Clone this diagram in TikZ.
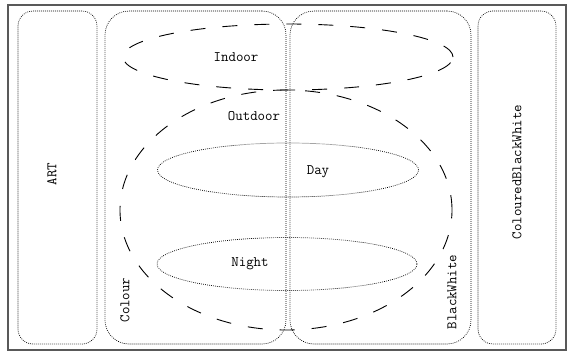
\documentclass[tikz,border=0pt]{standalone}
\usetikzlibrary{shapes.geometric}

\begin{document}
\begin{tikzpicture}[x=1pt, y=-1pt,
  every node/.style={font=\ttfamily\fontsize{14.5}{17}\selectfont},
  group/.style={draw, line width=0.7pt, dash pattern=on 0.8pt off 1.2pt,
    rounded corners=#1, inner sep=0pt, minimum height=333pt},
  scene/.style={draw, ellipse, line width=0.9pt, dash pattern=on 15pt off 17pt,
    inner sep=0pt},
  time/.style={draw, ellipse, line width=0.7pt, dash pattern=on 0.8pt off 1.2pt,
    inner sep=0pt}]
  \useasboundingbox (0,0) rectangle (573,356);
  \draw[gray!70!black, line width=1.2pt] (8,5) rectangle (566,350);
  % Groups
  \node[group=15, minimum width=79pt] (ART) at (57.5,177.5) {};
  \node[group=24, minimum width=181pt] (Colour) at (195.5,177.5) {};
  \node[group=24, minimum width=181pt] (BlackWhite) at (380.5,177.5) {};
  \node[group=15, minimum width=78pt] (ColouredBW) at (517,177.5) {};
  % Scenes
  \node[scene, minimum width=330pt, minimum height=66pt] (Indoor) at (288,57) {};
  \node[scene, minimum width=332pt, minimum height=240pt] (Outdoor) at (286,210) {};
  \node[time, minimum width=261pt, minimum height=54pt] (Day) at (288,170) {};
  \node[time, minimum width=260pt, minimum height=53pt] (Night) at (287,264) {};
  % Labels
  \node[rotate=90] (ARTlabel) at (52,174) {ART};
  \node[rotate=90] (Colourlabel) at (125,300) {Colour};
  \node[rotate=90] (BWlabel) at (452,292) {BlackWhite};
  \node[rotate=90] (CBWlabel) at (517,172) {ColouredBlackWhite};
  \node (Indoorlabel) at (236,57) {Indoor};
  \node (Outdoorlabel) at (254,116) {Outdoor};
  \node (Daylabel) at (318,172) {Day};
  \node (Nightlabel) at (250,264) {Night};
\end{tikzpicture}
\end{document}
